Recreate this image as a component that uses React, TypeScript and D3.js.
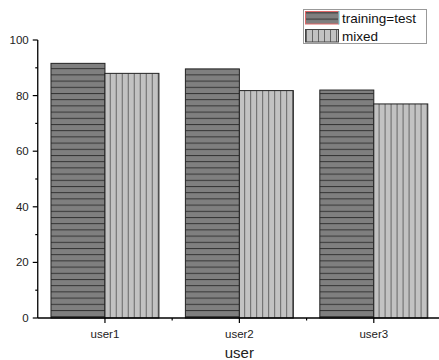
import React from "react";
import * as d3 from "d3";

const users = ["user1", "user2", "user3"];
const seriesNames = ["training=test", "mixed"];
const trainingEqTest = [91.6, 89.6, 82.0];
const mixed = [88.0, 81.8, 77.0];
const yTicks = [0, 20, 40, 60, 80, 100];
const yMinorTicks = [10, 30, 50, 70, 90];

const W = 439;
const H = 360;
const margin = { top: 40, right: -2, bottom: 42, left: 37.75 };
const font = "'Liberation Sans', Arial, sans-serif";

export default function App() {
  const x0 = d3
    .scaleBand()
    .domain(users)
    .range([margin.left, W - margin.right])
    .padding(0);

  const x1 = d3
    .scaleBand()
    .domain(seriesNames)
    .range([0, x0.bandwidth()])
    .paddingInner(0)
    .paddingOuter(0.245);

  const y = d3.scaleLinear().domain([0, 100]).range([H - margin.bottom, margin.top]);

  const values = [trainingEqTest, mixed];
  const fills = ["url(#hatchH)", "url(#hatchV)"];
  const y0 = y(0);

  // boundaries between categories for the small x ticks
  const boundaries = users.map((u) => x0(u)!).concat([x0(users[users.length - 1])! + x0.bandwidth()]);

  return (
    <svg
      width={W}
      height={H}
      style={{ position: "absolute", left: 0, top: 0, background: "#fff" }}
      fontFamily={font}
    >
      <defs>
        <pattern id="hatchH" patternUnits="userSpaceOnUse" width={6} height={6.2}>
          <rect width={6} height={6.2} fill="#7f7f7f" />
          <line x1={0} x2={6} y1={0.5} y2={0.5} stroke="#333" strokeWidth={1} />
        </pattern>
        <pattern id="hatchV" patternUnits="userSpaceOnUse" width={6} height={6}>
          <rect width={6} height={6} fill="#c2c2c2" />
          <line x1={0.5} x2={0.5} y1={0} y2={6} stroke="#666" strokeWidth={1} />
        </pattern>
      </defs>

      {/* bars */}
      {users.map((u, i) => (
        <g key={u} transform={`translate(${x0(u)},0)`}>
          {seriesNames.map((s, j) => (
            <rect
              key={s}
              x={x1(s)}
              y={y(values[j][i])}
              width={x1.bandwidth()}
              height={y0 - y(values[j][i])}
              fill={fills[j]}
              stroke="#222"
              strokeWidth={1}
            />
          ))}
        </g>
      ))}

      {/* y axis */}
      <line x1={margin.left} x2={margin.left} y1={y(100)} y2={y0} stroke="#000" strokeWidth={1.3} />
      {yTicks.map((t) => (
        <g key={t}>
          <line x1={margin.left - 5} x2={margin.left} y1={y(t)} y2={y(t)} stroke="#000" strokeWidth={1.2} />
          <text x={margin.left - 9} y={y(t)} dy="0.35em" textAnchor="end" fontSize={11.5} fill="#222">
            {t}
          </text>
        </g>
      ))}
      {yMinorTicks.map((t) => (
        <line key={t} x1={margin.left - 2.5} x2={margin.left} y1={y(t)} y2={y(t)} stroke="#000" strokeWidth={1.2} />
      ))}

      {/* x axis */}
      <line x1={margin.left} x2={W} y1={y0} y2={y0} stroke="#000" strokeWidth={1.3} />
      {users.map((u) => {
        const cx = x0(u)! + x0.bandwidth() / 2;
        return (
          <g key={u}>
            <line x1={cx} x2={cx} y1={y0} y2={y0 + 5} stroke="#000" strokeWidth={1.2} />
            <text x={cx} y={y0 + 16} dy="0.35em" textAnchor="middle" fontSize={11.5} fill="#222">
              {u}
            </text>
          </g>
        );
      })}
      {boundaries.slice(1, -1).map((b, i) => (
        <line key={i} x1={b} x2={b} y1={y0} y2={y0 + 2.5} stroke="#000" strokeWidth={1.2} />
      ))}
      <text x={x0("user2")! + x0.bandwidth() / 2} y={H - 2} textAnchor="middle" fontSize={15} fill="#222">
        user
      </text>

      {/* legend */}
      <g>
        <rect x={303.5} y={9.5} width={123} height={34} fill="#fff" stroke="#999" strokeWidth={1} />
        <rect x={305.5} y={11.5} width={33} height={12.5} fill={fills[0]} stroke="#e06666" strokeWidth={1} />
        <line x1={339} x2={339} y1={11} y2={24.5} stroke="#4dd0e1" strokeWidth={1} />
        <rect x={305.5} y={29.5} width={33} height={12.5} fill={fills[1]} stroke="#444" strokeWidth={1} />
        <text x={342} y={18} dy="0.35em" fontSize={13.5} fill="#111">
          {seriesNames[0]}
        </text>
        <text x={342} y={36} dy="0.35em" fontSize={13.5} fill="#111">
          {seriesNames[1]}
        </text>
      </g>
    </svg>
  );
}
